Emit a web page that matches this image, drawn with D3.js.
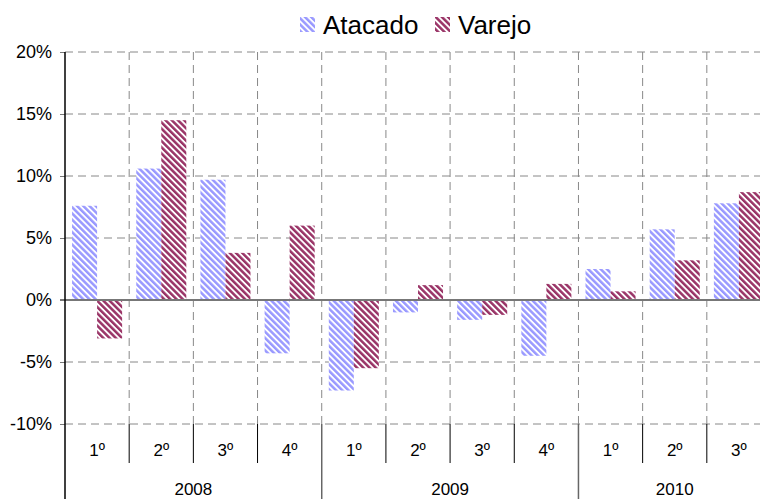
<!DOCTYPE html>
<html><head><meta charset="utf-8">
<script src="https://cdn.jsdelivr.net/npm/d3@7"></script>
<style>body{margin:0;background:#fff}svg{display:block;font-family:"Liberation Sans",Arial,sans-serif}</style>
</head><body><svg id="c" width="760" height="499"></svg>
<script>
const quarters = ["1º","2º","3º","4º","1º","2º","3º","4º","1º","2º","3º"];
const years = ["2008","2009","2010"];
const yearSpans = [4, 4, 3];
const series = ["Atacado","Varejo"];
const atacado = [7.6, 10.6, 9.7, -4.3, -7.3, -1.0, -1.6, -4.5, 2.5, 5.7, 7.8];
const varejo = [-3.1, 14.5, 3.8, 6.0, -5.5, 1.2, -1.2, 1.3, 0.7, 3.2, 8.7];
const yTicks = [-10, -5, 0, 5, 10, 15, 20];
const colors = ["#9999ff", "#993366"];

(function () {
const svg = d3.select("#c");
const pLeft = 65, pRight = 771, pTop = 52, pBottom = 424;
const x0 = d3.scaleBand().domain(d3.range(quarters.length)).range([pLeft, pRight]).padding(0);
const bw = x0.bandwidth();
const x1 = d3.scaleBand().domain(series).range([bw*0.11, bw*0.89]).padding(0);
const y = d3.scaleLinear().domain([-10, 20]).range([pBottom, pTop]);

const defs = svg.append("defs");
series.forEach((s, i) => {
  const p = defs.append("pattern").attr("id", "pat" + i).attr("patternUnits", "userSpaceOnUse")
    .attr("width", 4.4).attr("height", 4.4).attr("patternTransform", "rotate(-45)");
  p.append("rect").attr("width", 4.4).attr("height", 4.4).attr("fill", "#fff");
  p.append("rect").attr("width", 2.5).attr("height", 4.4).attr("fill", colors[i]);
});

// horizontal grid
svg.append("g").selectAll("line").data(yTicks.filter(d => d !== 0)).join("line")
  .attr("x1", pLeft).attr("x2", pRight).attr("y1", d => y(d)).attr("y2", d => y(d))
  .attr("stroke", "#888").attr("stroke-dasharray", "8,5").attr("stroke-width", 1);
// vertical grid
svg.append("g").selectAll("line").data(d3.range(1, quarters.length)).join("line")
  .attr("x1", d => x0(d)).attr("x2", d => x0(d)).attr("y1", pTop).attr("y2", pBottom)
  .attr("stroke", "#888").attr("stroke-dasharray", "8,5").attr("stroke-width", 1);

// bars
const data = [atacado, varejo];
const g = svg.append("g");
series.forEach((s, si) => {
  g.selectAll(".b" + si).data(data[si]).join("rect").attr("class", "b" + si)
    .attr("x", (d, i) => x0(i) + x1(s))
    .attr("width", x1.bandwidth())
    .attr("y", d => y(Math.max(0, d)))
    .attr("height", d => Math.abs(y(d) - y(0)))
    .attr("fill", `url(#pat${si})`);
});

// zero line
svg.append("line").attr("x1", pLeft - 5).attr("x2", pRight).attr("y1", y(0)).attr("y2", y(0))
  .attr("stroke", "#777").attr("stroke-width", 2);

// y axis
const ya = d3.axisLeft(y).tickValues(yTicks).tickSize(5).tickFormat(d => d + "%");
const yg = svg.append("g").attr("transform", `translate(${pLeft},0)`).call(ya);
yg.select(".domain").remove();
yg.selectAll(".tick line").attr("stroke", "#777");
yg.selectAll("text").attr("font-size", 18).attr("fill", "#000").attr("x", -13)
  .attr("font-family", "Liberation Sans, Arial, sans-serif");
svg.append("line").attr("x1", pLeft).attr("x2", pLeft).attr("y1", pTop).attr("y2", 499)
  .attr("stroke", "#000").attr("stroke-width", 1.5);

// category axis
let yearBounds = [0];
yearSpans.forEach((n, i) => yearBounds.push(yearBounds[i] + n));
svg.append("g").selectAll("line").data(d3.range(1, quarters.length).filter(i => !yearBounds.includes(i))).join("line")
  .attr("x1", d => x0(d)).attr("x2", d => x0(d)).attr("y1", pBottom).attr("y2", 463)
  .attr("stroke", "#000").attr("stroke-width", 1);
svg.append("g").selectAll("line").data(yearBounds.slice(1, -1)).join("line")
  .attr("x1", d => x0(d)).attr("x2", d => x0(d)).attr("y1", pBottom).attr("y2", 499)
  .attr("stroke", "#666").attr("stroke-width", 1.5);
svg.append("g").selectAll("text").data(quarters).join("text")
  .attr("x", (d, i) => x0(i) + bw / 2).attr("y", 456).attr("text-anchor", "middle")
  .attr("font-size", 17).text(d => d);
svg.append("g").selectAll("text").data(years).join("text")
  .attr("x", (d, i) => (x0(yearBounds[i]) + (yearBounds[i+1] < quarters.length ? x0(yearBounds[i+1]) : pRight)) / 2)
  .attr("y", 495).attr("text-anchor", "middle").attr("font-size", 17).text(d => d);

// legend
const lg = svg.append("g");
const lx = [300, 435];
series.forEach((s, i) => {
  lg.append("rect").attr("x", lx[i]).attr("y", 17).attr("width", 15).attr("height", 15).attr("fill", `url(#pat${i})`);
  lg.append("text").attr("x", lx[i] + 23).attr("y", 34).attr("font-size", 26).text(s);
});
})();
</script></body></html>
